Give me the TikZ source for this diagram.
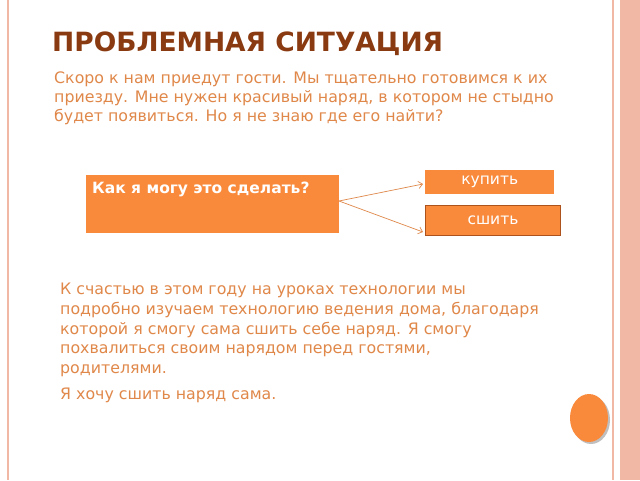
\documentclass[tikz,border=0pt]{standalone}
\usepackage{fontspec}
\setmainfont{DejaVu Sans}
\usetikzlibrary{arrows.meta}
\definecolor{ttl}{HTML}{8A3A10}
\definecolor{txt}{HTML}{E0884A}
\definecolor{org}{HTML}{F98A3C}
\definecolor{brd}{HTML}{F2B8A6}
\tikzset{x=1pt,y=-1pt,
 body/.style={anchor=base west,inner sep=0,text=txt,font=\fontsize{15.8}{18}\selectfont},
 obox/.style={fill=org,draw=none,text=white,anchor=north west,inner sep=0,font=\fontsize{15.5}{18}\selectfont},
 arr/.style={draw=txt,line width=0.7pt,-{Straight Barb[length=4pt,width=7pt]}}}
\begin{document}
\begin{tikzpicture}
\useasboundingbox (0,0) rectangle (640,480);
\fill[white] (0,0) rectangle (640,480);
\fill[brd] (620,0) rectangle (640,480);
\draw[brd,line width=1.5pt] (8,0) -- (8,480);
\draw[brd,line width=1.5pt] (613,0) -- (613,480);
\node[anchor=base west,inner sep=0,text=ttl,font=\bfseries\fontsize{26.5}{30}\selectfont] (title) at (52,51) {ПРОБЛЕМНАЯ СИТУАЦИЯ};
\node[body] (l1) at (54,83) {Скоро к нам приедут гости. Мы тщательно готовимся к их};
\node[body] (l2) at (54,102) {приезду. Мне нужен красивый наряд, в котором не стыдно};
\node[body] (l3) at (54,121) {будет появиться. Но я не знаю где его найти?};
\node[obox,minimum width=253,minimum height=58] (q) at (86,175) {};
\node[anchor=base west,inner sep=0,text=white,font=\bfseries\fontsize{15.5}{18}\selectfont] (qt) at (92,193) {Как я могу это сделать?};
\node[obox,minimum width=129,minimum height=24] (buy) at (425,170) {купить};
\node[obox,draw=ttl!70!org,line width=1pt,minimum width=135,minimum height=30] (sew) at (425,205) {сшить};
\coordinate (o) at (339,201);
\draw[arr] (o) -- ([xshift=-2]buy.west |- 0,184);
\draw[arr] (o) -- ([xshift=-2]sew.west |- 0,232);
\node[body] (m1) at (60,294) {К счастью в этом году на уроках технологии мы};
\node[body] (m2) at (60,314) {подробно изучаем технологию ведения дома, благодаря};
\node[body] (m3) at (60,334) {которой я смогу сама сшить себе наряд. Я смогу};
\node[body] (m4) at (60,353) {похвалиться своим нарядом перед гостями,};
\node[body] (m5) at (60,373) {родителями.};
\node[body] (m6) at (60,399) {Я хочу сшить наряд сама.};
\fill[black!25] (591,420) ellipse (19 and 24);
\fill[org] (589,418) ellipse (19 and 24);
\end{tikzpicture}
\end{document}
